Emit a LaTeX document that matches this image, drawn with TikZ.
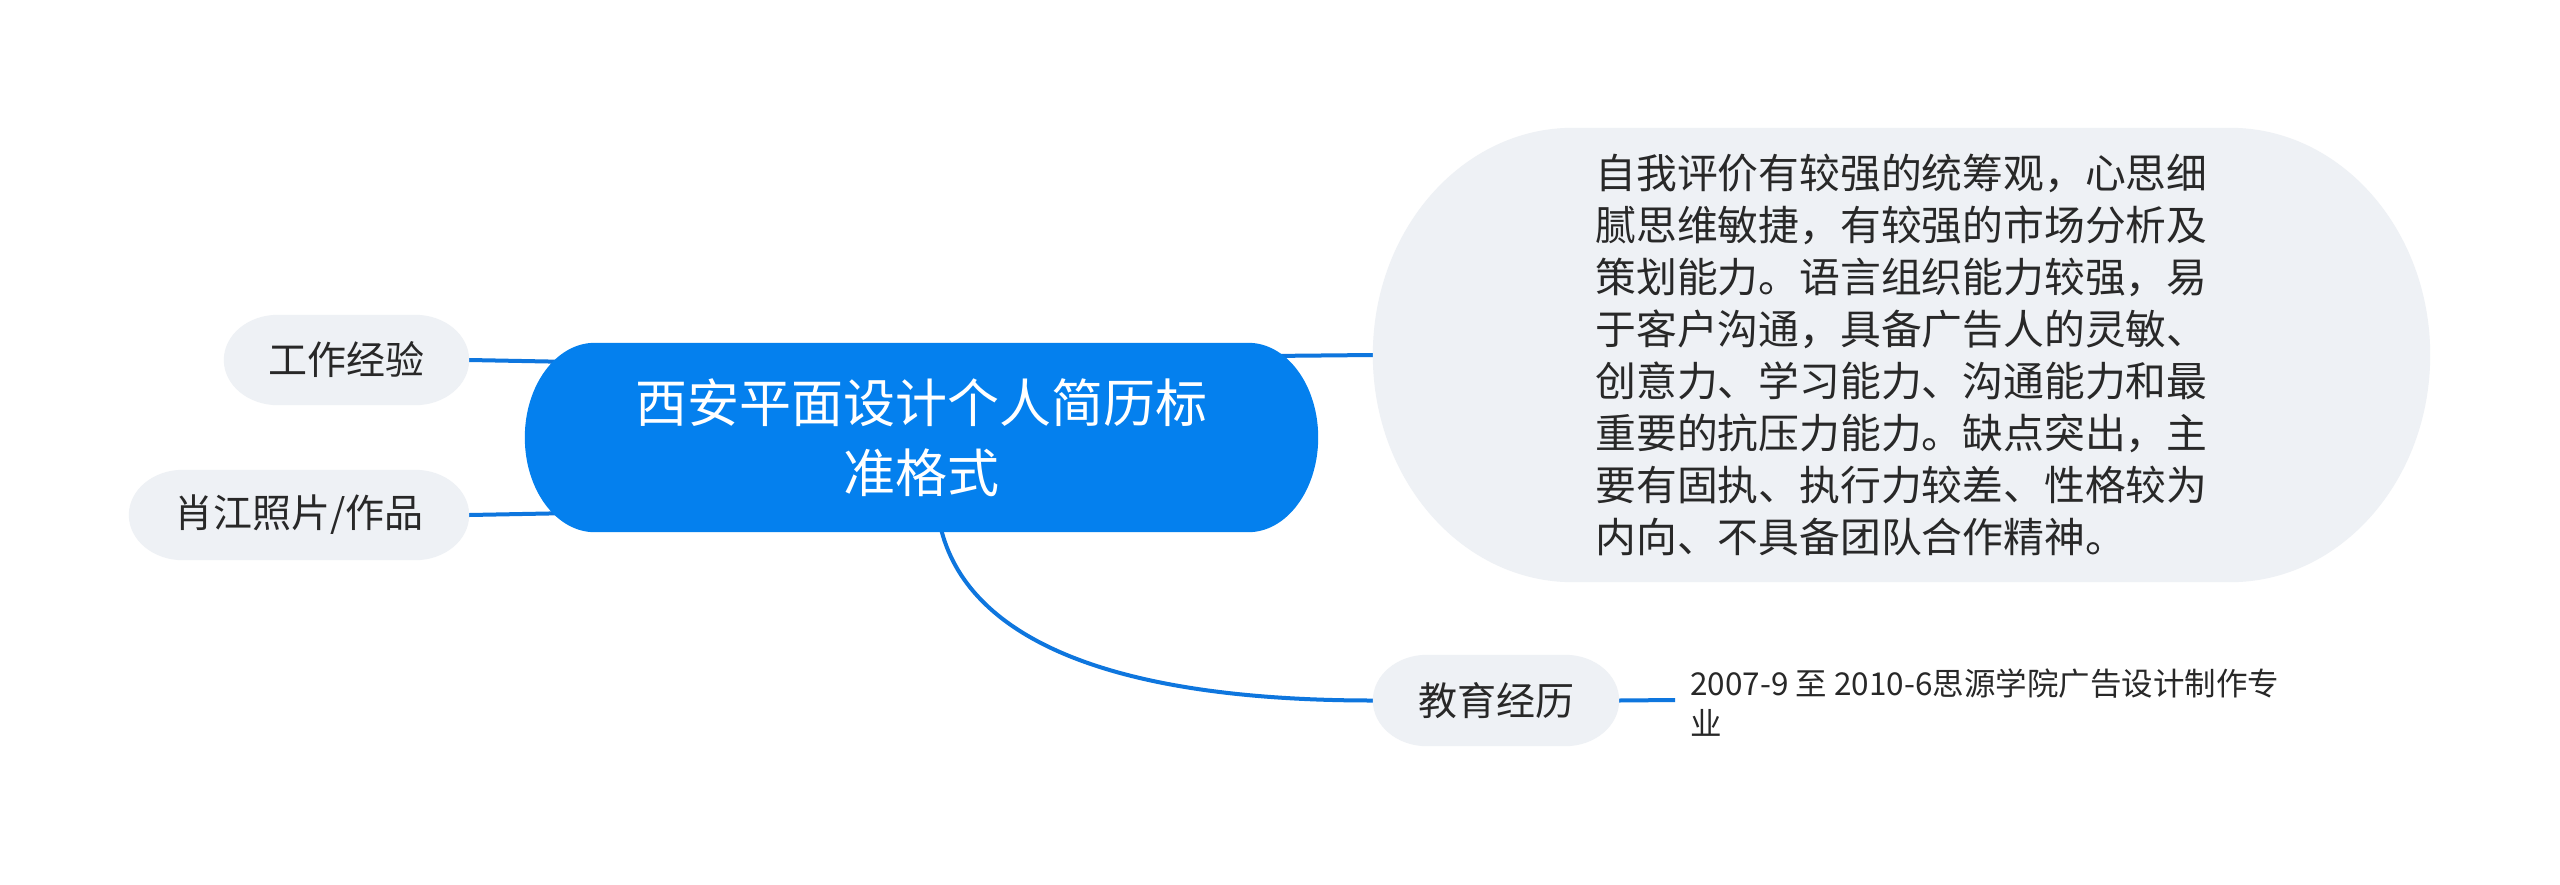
\documentclass[tikz,border=0pt]{standalone}
\usepackage{fontspec}
\setmainfont{Noto Sans CJK SC}
\usetikzlibrary{calc,backgrounds}
\definecolor{mainblue}{RGB}{4,128,238}
\definecolor{linkblue}{RGB}{14,118,222}
\definecolor{pale}{RGB}{238,241,245}
\definecolor{ink}{RGB}{40,40,40}
\newcommand\pillfill[3]{% node, rx (pt), colour
  \fill[#3] let \p1=(#1.north west), \p2=(#1.south east) in
    (\x1+#2pt,\y1) -- (\x2-#2pt,\y1)
    arc[start angle=90,end angle=-90,x radius=#2pt,y radius={(\y1-\y2)/2}]
    -- (\x1+#2pt,\y2)
    arc[start angle=270,end angle=90,x radius=#2pt,y radius={(\y1-\y2)/2}]
    -- cycle;}
\tikzset{
  pillnode/.style={inner sep=0pt,text=ink,font=\fontsize{39}{52}\selectfont},
  conn/.style={draw=linkblue,line width=4pt},
}
\begin{document}
\begin{tikzpicture}[x=1pt,y=-1pt]
\useasboundingbox (0,0) rectangle (2560,884);
% nodes
\node[pillnode,minimum width=793pt,minimum height=189pt,text=white,align=center,
      font=\fontsize{52}{70}\selectfont] (c) at (921.5,437.5)
  {西安平面设计个人简历标\\准格式};
\node[pillnode,minimum width=245pt,minimum height=90pt] (gz) at (346.5,360) {工作经验};
\node[pillnode,minimum width=340pt,minimum height=90pt] (xj) at (299,515) {肖江照片/作品};
\node[pillnode,minimum width=1057pt,minimum height=454pt,align=left,
      font=\fontsize{40.8}{52}\selectfont] (bb) at (1901.5,355)
  {自我评价有较强的统筹观，心思细\\腻思维敏捷，有较强的市场分析及\\策划能力。语言组织能力较强，易\\于客户沟通，具备广告人的灵敏、\\创意力、学习能力、沟通能力和最\\重要的抗压力能力。缺点突出，主\\要有固执、执行力较差、性格较为\\内向、不具备团队合作精神。};
\node[pillnode,minimum width=246pt,minimum height=91pt] (jy) at (1496,700.5) {教育经历};
\node[pillnode,anchor=west,align=left,font=\fontsize{31.5}{40}\selectfont] (edu) at (1690,703)
  {2007-9 至 2010-6思源学院广告设计制作专\\业};
\begin{scope}[on background layer]
  \fill[white] (0,0) rectangle (2560,884);
  \draw[conn] (gz.east) -- ($(gz.east -| c.west)+(50,2)$);
  \draw[conn] (xj.east) -- ($(xj.east -| c.west)+(50,-2)$);
  \draw[conn] (bb.west) -- ($(bb.west -| c.east)+(-50,1)$);
  \draw[conn] ($(c.south)+(18,-10)$) .. controls ($(c.south)+(40,98)$) and ($(jy.west)+(-280,0)$) .. (jy.west);
  \draw[conn] (jy.east) -- ($(edu.west)+(-15,-3)$);
  \pillfill{c}{70}{mainblue}
  \pillfill{gz}{54}{pale}
  \pillfill{xj}{54}{pale}
  \pillfill{bb}{200}{pale}
  \pillfill{jy}{54}{pale}
\end{scope}
\end{tikzpicture}
\end{document}
